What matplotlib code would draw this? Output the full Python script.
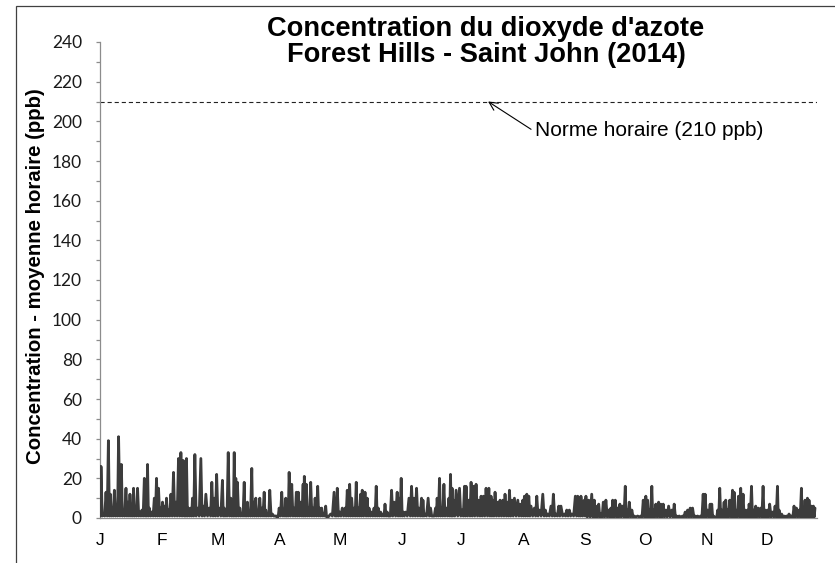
import numpy as np
import matplotlib
matplotlib.use("Agg")
import matplotlib.pyplot as plt
from matplotlib.patches import Rectangle

# ---------------- data ----------------
# hourly NO2 readings (day of year, ppb) - peaks and troughs
q1_day = [0, 0.5, 1.7, 3, 4.2, 5.2, 6, 7.2, 8.3, 9.3, 10.7, 11.7, 13, 14, 15, 16, 16.8, 17.7,
          18.8, 20, 21, 22.2, 23, 23.8, 24.7, 26, 27.2, 28.3, 29.3, 30.5, 31.3, 32.5, 33.3,
          34.3, 35.5, 36.8, 38, 39.3, 40.5, 41.7, 42.7, 43.3, 44.3, 45.5, 46.3, 47.5, 48.8,
          50.5, 51.7, 53, 54.7, 56, 57.2, 58.4, 59.7, 61.3, 62.2, 63, 64.2, 65.5, 66.3, 67.2,
          68, 68.8, 70, 71, 72.2, 73, 73.8, 74.7, 76, 76.8, 78, 78.8, 80, 81, 82.2, 83, 84,
          85, 86.3, 87.7, 88.8, 89.7]
q1_ppb = [26, 26, 2, 13, 39, 12, 3, 14, 5, 41, 27, 3, 15, 8, 12, 6, 15, 5,
          15, 3, 4, 20, 10, 27, 5, 3, 10, 20, 15, 5, 8, 6, 10,
          4, 12, 23, 8, 30, 33, 29, 10, 30, 5, 5, 10, 32, 5,
          30, 6, 12, 5, 18, 10, 22, 5, 19, 5, 2, 33, 10, 2, 33,
          20, 18, 5, 2, 18, 5, 8, 2, 25, 8, 10, 3, 10, 5, 13, 4, 2,
          14, 2, 1, 0, 5]

q2_day = [91, 92.2, 93, 93.8, 94.7, 96, 97.2, 98.3, 99.3, 100.5, 101.7, 102.3, 103.3, 104.3,
          105.5, 106.7, 107.7, 109, 110, 111, 112.2, 113, 113.8, 115.5, 117.2, 118.3, 118.8,
          120, 121.3, 122.7, 123.8, 125, 126, 127.2, 128.3, 129.3, 130.5, 131.3, 132.7, 133.8,
          134.7, 136, 137.2, 138.3, 139.3, 140.5, 141.7, 142.7, 143.8, 144.7, 146, 147.2,
          148.8, 149.7, 150.8, 151.8, 153, 154.7, 156, 157.2, 158.5, 159.7, 161, 161.7, 162.7,
          164.3, 165.5, 166.7, 168, 168.8, 170, 171, 172.2, 173.3, 174.7, 175.5, 176.3, 177,
          178.3, 180, 181.3]
q2_ppb = [13, 3, 10, 2, 23, 17, 5, 13, 13, 8, 17, 21, 17, 5,
          18, 5, 10, 16, 5, 5, 2, 6, 0, 2, 13, 8, 15,
          3, 5, 5, 14, 17, 10, 5, 18, 5, 12, 14, 13, 10,
          5, 3, 5, 16, 5, 3, 2, 7, 3, 1, 14, 8,
          13, 10, 20, 3, 3, 10, 16, 10, 15, 5, 10, 9, 2,
          10, 5, 1, 5, 10, 20, 5, 17, 5, 10, 22, 15, 9,
          14, 15, 4]

q3_day = [182.5, 183.3, 184.7, 185.8, 187, 188.3, 189.7, 190.8, 192, 193.3, 194.7, 195.8,
          196.7, 197.8, 199.2, 200.3, 201.7, 202.8, 204.2, 205, 206.3, 207.5, 209.2, 210.3,
          211.7, 212.5, 213.7, 214.7, 215.8, 217.5, 218.7, 220, 221.7, 223, 224.2, 225.8, 227,
          228.3, 229.7, 230.8, 232.5, 233.7, 235, 236.3, 238, 239.2, 240.3, 240.8, 242.5, 243.3,
          244.7, 246.2, 247.5, 248.3, 249.7, 250.8, 252, 253.3, 254.7, 255.8, 256.7, 258, 259.2,
          260.3, 261.7, 263, 263.8, 265, 266.3, 267.5, 269.2, 270.8, 272]
q3_ppb = [16, 16, 9, 18, 16, 17, 9, 11, 11, 15, 15, 11,
          9, 13, 8, 9, 9, 12, 8, 14, 9, 10, 9, 7,
          9, 11, 12, 11, 6, 5, 11, 4, 12, 4, 2, 6, 12,
          2, 6, 6, 2, 4, 4, 2, 11, 11, 9, 11, 9, 11,
          9, 12, 9, 6, 7, 2, 8, 9, 4, 5, 9, 9, 5,
          7, 6, 16, 4, 8, 4, 1, 1, 1, 9]

q4_day = [273.3, 274.2, 275, 276.3, 277.2, 278.3, 279.7, 280.8, 282, 283.3, 284.7, 286.3,
          287.5, 288.7, 290, 291.7, 293, 294.2, 295.5, 296.7, 298, 299.2, 300.8, 302, 303,
          304.2, 305.5, 306.3, 307.2, 308.3, 309.3, 310.3, 311.3, 312.5, 313.3, 314.2, 315.3,
          316.7, 317.5, 318.3, 319.7, 320.8, 322, 323, 324.2, 325, 326.2, 327.2, 328.3, 329.5,
          330.8, 332, 333, 334.2, 335.3, 336.7, 338, 339.2, 340, 341.3, 342.5, 343.7, 345,
          346.3, 347.5, 348.7, 350, 351.2, 352, 353, 354.2, 355, 356.2, 357.2, 358]
q4_ppb = [11, 9, 4, 16, 4, 7, 8, 7, 7, 4, 6, 4,
          7, 1, 1, 1, 3, 4, 5, 5, 1, 1, 1, 12, 12,
          4, 7, 7, 1, 0, 4, 15, 4, 8, 9, 4, 9,
          14, 13, 4, 11, 15, 12, 4, 4, 7, 16, 4, 6, 5,
          5, 16, 4, 4, 7, 3, 6, 16, 4, 2, 1, 1, 2,
          1, 6, 5, 4, 15, 4, 9, 10, 9, 6, 6, 5]

# typical overnight low of the hourly series, by month (ppb)
night_low_ppb = [1, 1, 1, 1, 1, 1, 1, 1, 0.5, 0.5, 0.5, 0.5]

month_labels = ["J", "F", "M", "A", "M", "J", "J", "A", "S", "O", "N", "D"]
month_start_day = [0, 31, 59, 90, 120, 151, 181, 212, 243, 273, 304, 334]

norm_ppb = 210
norm_label = "Norme horaire (210 ppb)"
title_1 = "Concentration du dioxyde d'azote"
title_2 = "Forest Hills - Saint John (2014)"
ylabel = "Concentration - moyenne horaire (ppb)"

# ---------------- build series ----------------
days = np.array(q1_day + q2_day + q3_day + q4_day, dtype=float)
ppb = np.array(q1_ppb + q2_ppb + q3_ppb + q4_ppb, dtype=float)
midx = np.searchsorted(month_start_day, days, side="right") - 1
low = np.array(night_low_ppb)[midx]
x = np.empty(2 * len(days) - 1)
y = np.empty(2 * len(days) - 1)
x[0::2] = days
y[0::2] = ppb
x[1::2] = (days[:-1] + days[1:]) / 2
y[1::2] = low[:-1]

# ---------------- figure ----------------
plt.rcParams["lines.scale_dashes"] = False
W, H = 835, 563
fig = plt.figure(figsize=(W / 100, H / 100), dpi=100)
fig.patch.set_facecolor("white")

# outer chart border (top/left visible)
fig.patches.append(Rectangle((16 / W, -0.1), 1.2, (H - 6) / H + 0.1,
                             transform=fig.transFigure, fill=False,
                             edgecolor="#404040", lw=0.9))

ax = fig.add_axes([100 / W, 45 / H, 717 / W, 476 / H])
ax.plot(x, y, color="#3c3c3c", lw=2.0, solid_joinstyle="round",
        solid_capstyle="round", zorder=3)

ax.set_xlim(0, 359)
ax.set_ylim(0, 240)

for s in ["top", "right"]:
    ax.spines[s].set_visible(False)
for s in ["left", "bottom"]:
    ax.spines[s].set_color("#8c8c8c")
    ax.spines[s].set_linewidth(0.9)

ax.set_yticks(np.arange(0, 241, 20))
ax.set_yticks(np.arange(10, 241, 20), minor=True)
ax.tick_params(axis="y", which="both", direction="out", length=3, width=0.9,
               color="#8c8c8c", pad=10)
for lab in ax.get_yticklabels():
    lab.set_fontfamily("Lato")
    lab.set_fontsize(12.5)
    lab.set_color("#1a1a1a")

ax.set_xticks(month_start_day)
ax.set_xticklabels(month_labels, fontfamily="Liberation Sans", fontsize=12.5)
ax.tick_params(axis="x", length=0, pad=11)

# hourly standard
ax.axhline(norm_ppb, color="#222222", lw=0.8, dashes=(3.0, 2.1), zorder=2)
ax.annotate(norm_label, xy=(194.3, norm_ppb), xytext=(217.8, 192.4),
            ha="left", va="baseline", fontsize=15, fontfamily="Liberation Sans",
            arrowprops=dict(arrowstyle="->", color="black", lw=0.8,
                            shrinkA=1, shrinkB=0, relpos=(0, 0.45)))

fig.text(486 / W, 1 - 36 / H, title_1, ha="center", va="baseline",
         fontsize=19.6, fontweight="bold", fontfamily="Liberation Sans")
fig.text(486 / W, 1 - 62 / H, title_2, ha="center", va="baseline",
         fontsize=19.6, fontweight="bold", fontfamily="Liberation Sans")
fig.text(36 / W, 1 - 276.5 / H, ylabel, rotation=90, ha="center", va="center",
         fontsize=14.7, fontweight="bold", fontfamily="Liberation Sans")

fig.savefig("out.png", dpi=100)
